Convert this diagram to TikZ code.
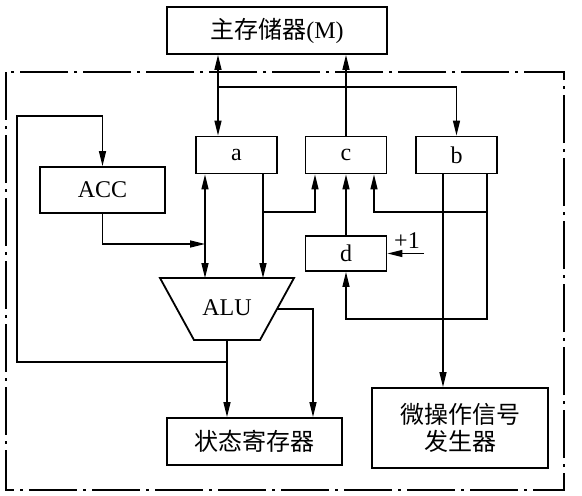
\documentclass[tikz,border=0pt]{standalone}
\usepackage{fontspec}
\setmainfont{Liberation Serif}
\newfontfamily\cjk{Noto Sans CJK SC}
\usetikzlibrary{arrows.meta}

\begin{document}
\begin{tikzpicture}[
  x=1pt, y=-1pt,
  font=\fontsize{24}{27}\selectfont,
  hd/.tip={Triangle[length=15pt,width=7pt]},
  box/.style={draw,line width=1.8pt,inner sep=0pt,align=center},
  reg/.style={box,minimum width=81pt,minimum height=37pt},
  alushape/.style={line width=1.8pt,line join=miter},
  f/.style={-hd,line width=1.4pt},
  fb/.style={hd-hd,line width=1.4pt},
  cpuframe/.style={line width=1.8pt,dash pattern=on 48pt off 6pt on 3pt off 6pt},
]
\useasboundingbox (0,0) rectangle (582,496);

% --- memory and the CPU frame ---------------------------------------------
\node[box,minimum width=220pt,minimum height=47pt] (mem) at (277,30.5) {{\cjk 主存储器}(M)};
\draw[cpuframe] (6,72) rectangle (564,490);

% --- registers ------------------------------------------------------------
\node[reg] (ra) at (236.5,155) {a};
\node[reg] (rc) at (346,155)   {c};
\node[reg] (rb) at (456.5,155) {b};
\node[box,minimum width=125pt,minimum height=46pt] (acc) at (102.5,190) {ACC};
\node[reg,minimum height=35pt] (rd) at (346,253.5) {d};
\node (plus) at (407,241) {+1};

% --- ALU ------------------------------------------------------------------
\coordinate (alut) at (227,278);
\coordinate (alub) at (227,340);
\draw[alushape] (160,278) -- (294,278) -- (260,340) -- (194,340) -- cycle;
\node (alu) at (227,308) {ALU};

% --- outputs --------------------------------------------------------------
\node[box,minimum width=175pt,minimum height=47pt] (sr) at (254.5,441.5) {\cjk 状态寄存器};
\node[box,minimum width=176pt,minimum height=80pt] (mg) at (460,428) {{\cjk 微操作信号}\\{\cjk 发生器}};

% --- memory bus -----------------------------------------------------------
\coordinate (j1) at (218,87);
\draw[fb] (mem.south -| j1) -- (ra.north -| j1);
\draw[f] (j1) -| (rb.north);
\draw[f] (rc.north) -- (mem.south -| rc.north);

% --- a, ACC into the ALU --------------------------------------------------
\coordinate (xa) at (205,244);
\draw[fb] (ra.south -| xa) -- (alut -| xa);
\draw[f] (acc.south) |- (xa);
\coordinate (xb) at (263,212);
\draw[f] (ra.south -| xb) -- (alut -| xb);
\draw[f] (xb) -| ([xshift=-31pt]rc.south);

% --- c, d and b -----------------------------------------------------------
\draw[f] (rd.north) -- (rc.south);
\coordinate (one) at (424,253.5);
\draw[f] (one) -- (rd.east);
\coordinate (bl) at ([xshift=-13.5pt]rb.south);
\coordinate (br) at ([xshift=30.5pt]rb.south);
\draw[f] (bl) -- (bl |- mg.north);
\draw[f] (br) |- ([yshift=-47pt]rd.south) -- (rd.south);
\draw[f] (br |- xb) -| ([xshift=28pt]rc.south);

% --- ALU results and feedback to ACC --------------------------------------
\coordinate (aluR) at (277,309);
\draw[f] (aluR) -| ([xshift=58.5pt]sr.north);
\draw[f] (alub) -- (sr.north -| alub);
\coordinate (lp1) at (17,362);
\coordinate (lp2) at (17,116);
\draw[f] (lp1 -| alub) -- (lp1) -- (lp2) -| (acc.north);
\end{tikzpicture}
\end{document}
